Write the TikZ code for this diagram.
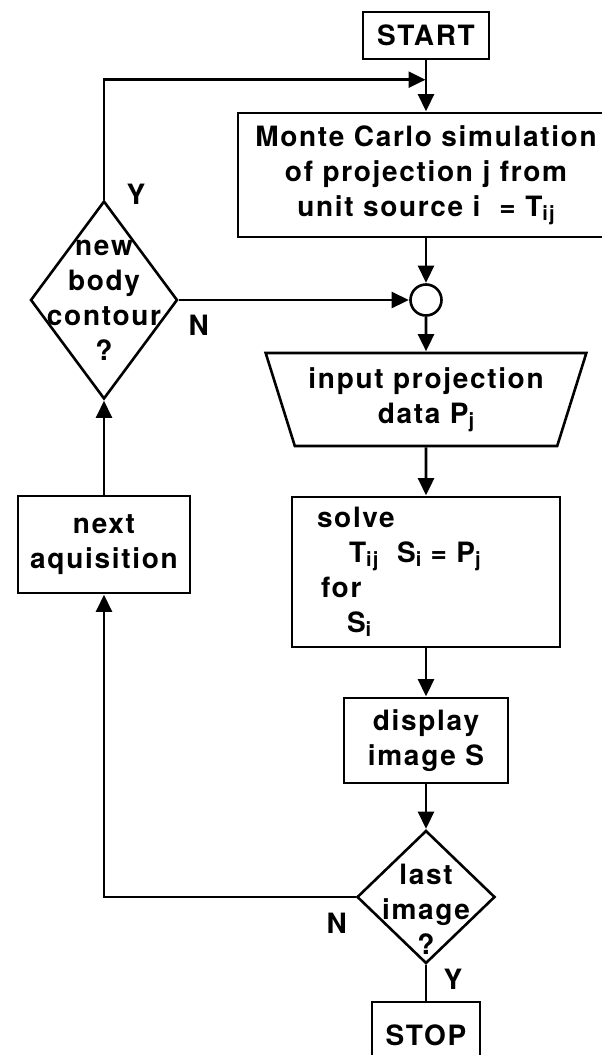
\documentclass[tikz,border=0pt]{standalone}
\usepackage{fontspec}
\setmainfont{TeX Gyre Heros}[LetterSpace=6]
\usetikzlibrary{shapes.geometric,arrows.meta,positioning}

% lowered index, as in T_ij
\newcommand\lowix[1]{\raisebox{-4.5pt}{\fontsize{20pt}{20pt}\selectfont #1}}
% text that does not grow a diamond
\newcommand\diamondtext[2]{\makebox[0pt]{\raisebox{#1}[0pt][0pt]{%
  \begin{tabular}{@{}c@{}}#2\end{tabular}}}}

\begin{document}
\begin{tikzpicture}[
  on grid,x=1pt,y=1pt,
  line width=2.6pt,
  >={Triangle[width=16pt,length=17pt]},
  every node/.style={font=\fontsize{28pt}{35pt}\selectfont\bfseries},
  box/.style={draw,rectangle,inner sep=0pt,align=center},
  decision/.style={draw,diamond,inner sep=0pt},
  ioblock/.style={draw,trapezium,trapezium angle=68,shape border rotate=180,
    trapezium stretches=true,inner sep=0pt,align=center},
  joint/.style={draw,circle,inner sep=0pt,minimum size=31pt},
  lbl/.style={inner sep=0pt},
  flow/.style={->,shorten >=0.5pt}
  ]

  \path[use as bounding box,clip] (0,0) rectangle (602,-1055);

  % main column
  \node[box,minimum width=126pt,minimum height=47pt] (start) at (426,-35.5) {START};
  \node[box,minimum width=376pt,minimum height=124pt] (mc) [below=139.5pt of start]
    {Monte Carlo simulation\\of projection j from\\unit source i\ \ = T\lowix{ij}};
  \node[joint] (collect) [below=125pt of mc] {};
  \node[ioblock,minimum width=322pt,minimum height=93pt] (input) [below=99.5pt of collect]
    {input projection\\data P\lowix{j}};
  \node[box,minimum width=268pt,minimum height=150pt,text width=218pt,align=left]
    (solve) [below=172.5pt of input]
    {solve\\\hspace*{32pt}T\lowix{ij}\ \ S\lowix{i} = P\lowix{j}\\\hspace*{4pt}for\\\hspace*{30pt}S\lowix{i}};
  \node[box,minimum width=164pt,minimum height=85pt] (display) [below=168.5pt of solve]
    {display\\image S};
  \node[decision,minimum width=138pt,minimum height=133pt] (last) [below=156.5pt of display]
    {\diamondtext{-22pt}{last\\image\\?}};
  \node[box,minimum width=108pt,minimum height=66pt] (stop) [below=138pt of last] {STOP};

  % left column
  \node[decision,minimum width=147pt,minimum height=198pt] (newbody) [left=322pt of collect]
    {\diamondtext{-7pt}{new\\body\\contour\\?}};
  \node[box,minimum width=172pt,minimum height=97pt] (next) [below=244.5pt of newbody]
    {next\\aquisition};

  \coordinate (rejoin) at ([yshift=32pt]mc.north);

  \draw[flow] (start) -- (mc);
  \draw[flow] (newbody.north) |- (rejoin);
  \draw[flow] (mc) -- (collect);
  \draw[flow] (newbody.east) -- (collect.west);
  \draw[flow] (collect) -- (input);
  \draw[flow] (input) -- (solve);
  \draw[flow] (solve) -- (display);
  \draw[flow] (display) -- (last);
  \draw[flow] (last.west) -| (next.south);
  \draw[flow] (next) -- (newbody);
  \draw (last) -- (stop);

  % branch letters
  \node[lbl] (ynew)  at ([shift={(32,5)}]newbody.north) {Y};
  \node[lbl] (nnew)  at ([shift={(20,-25)}]newbody.east) {N};
  \node[lbl] (nlast) at ([shift={(-19,-26)}]last.west) {N};
  \node[lbl] (ylast) at ([shift={(27,-14)}]last.south) {Y};
\end{tikzpicture}
\end{document}
